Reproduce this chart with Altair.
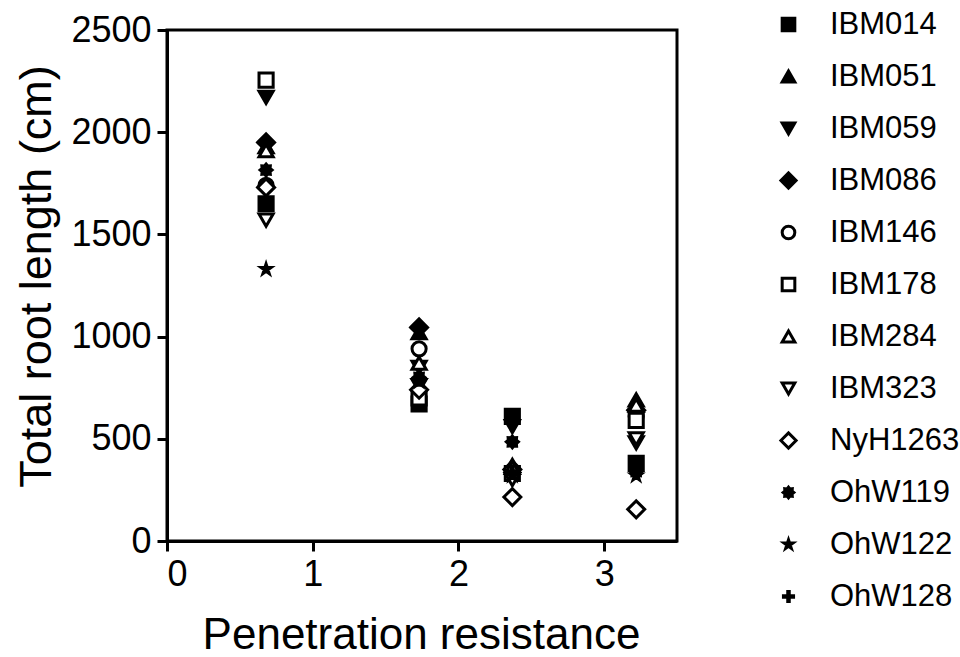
import altair as alt
import pandas as pd

# ---- data ----
lines = ["IBM014", "IBM051", "IBM059", "IBM086", "IBM146", "IBM178",
         "IBM284", "IBM323", "NyH1263", "OhW119", "OhW122", "OhW128"]
pen_res = [0.68, 1.73, 2.37, 3.22]

IBM014 = [1650, 670, 610, 380]
IBM051 = [1930, 1020, 370, 690]
IBM059 = [2170, 850, 560, 480]
IBM086 = [1950, 1045, 350, 640]
IBM146 = [1740, 940, 340, 610]
IBM178 = [2255, 700, 330, 590]
IBM284 = [1910, 870, 360, 665]
IBM323 = [1570, 760, 300, 500]
NyH1263 = [1730, 740, 215, 155]
OhW119 = [1815, 800, 485, 340]
OhW122 = [1330, 780, 320, 320]
OhW128 = [1660, 790, 340, 360]

series = [IBM014, IBM051, IBM059, IBM086, IBM146, IBM178,
          IBM284, IBM323, NyH1263, OhW119, OhW122, OhW128]

rows = []
for name, vals in zip(lines, series):
    for xv, yv in zip(pen_res, vals):
        rows.append({"line": name, "pr": xv, "trl": yv})
df = pd.DataFrame(rows)

DIAMOND = "M-1.2,0L0,-1.2L1.2,0L0,1.2Z"
BURST = ("M0,-0.85L0.23,-0.57L0.6,-0.6L0.57,-0.23L0.85,0L0.57,0.23L0.6,0.6L0.23,0.57"
         "L0,0.85L-0.23,0.57L-0.6,0.6L-0.57,0.23L-0.85,0L-0.57,-0.23L-0.6,-0.6L-0.23,-0.57Z")
STAR = ("M0,-0.75L0.17,-0.23L0.71,-0.23L0.27,0.09L0.44,0.61L0,0.29L-0.44,0.61"
        "L-0.27,0.09L-0.71,-0.23L-0.17,-0.23Z")
PLUS = "M-0.12,-0.8H0.12V-0.12H0.8V0.12H0.12V0.8H-0.12V0.12H-0.8V-0.12H-0.12Z"

shapes = ["square", "triangle-up", "triangle-down", DIAMOND, "circle", "square",
          "triangle-up", "triangle-down", DIAMOND, BURST, STAR, PLUS]
fills = ["black", "black", "black", "black", "white", "white",
         "white", "white", "white", "black", "black", "black"]
strokes = ["black"] * len(lines)

FONT = "Liberation Sans"


def leg():
    return alt.Legend(title=None, symbolStrokeWidth=3, symbolSize=160)


chart = alt.Chart(df).mark_point(
    size=200, strokeWidth=3, opacity=1
).encode(
    x=alt.X("pr:Q",
            scale=alt.Scale(domain=[0, 3.5], nice=False, zero=False),
            axis=alt.Axis(values=[0, 1, 2, 3], title="Penetration resistance",
                          titleX=254, titleY=107, titleBaseline="alphabetic",
                          titleFontSize=44, labelPadding=6)),
    y=alt.Y("trl:Q",
            scale=alt.Scale(domain=[0, 2500], nice=False),
            axis=alt.Axis(values=[0, 500, 1000, 1500, 2000, 2500], format="d",
                          title="Total root length (cm)",
                          titleX=-117, titleY=246, titleAngle=270,
                          titleBaseline="alphabetic", titleAlign="center",
                          titleFontSize=45, titleLimit=600, labelPadding=6)),
    shape=alt.Shape("line:N", scale=alt.Scale(domain=lines, range=shapes), legend=leg()),
    fill=alt.Fill("line:N", scale=alt.Scale(domain=lines, range=fills), legend=leg()),
    stroke=alt.Stroke("line:N", scale=alt.Scale(domain=lines, range=strokes), legend=leg()),
    order=alt.Order("line:N"),
).properties(
    width=510, height=511,
    autosize=alt.AutoSizeParams(type="none"),
    padding={"left": 167, "top": 30, "right": 283, "bottom": 116},
).configure_view(
    stroke="black", strokeWidth=3
).configure_axis(
    grid=False, domainColor="black", domainWidth=3, tickColor="black",
    tickWidth=3, tickSize=10, labelFont=FONT, labelFontSize=36,
    labelColor="black", titleFont=FONT, titleColor="black",
    titleFontWeight="normal"
).configure_legend(
    orient="none", legendX=606, legendY=-21,
    labelFont=FONT, labelFontSize=31, labelColor="black",
    rowPadding=20, labelOffset=26, symbolOpacity=1
)

chart.save("out.html", embed_options={"renderer": "svg", "actions": False})
